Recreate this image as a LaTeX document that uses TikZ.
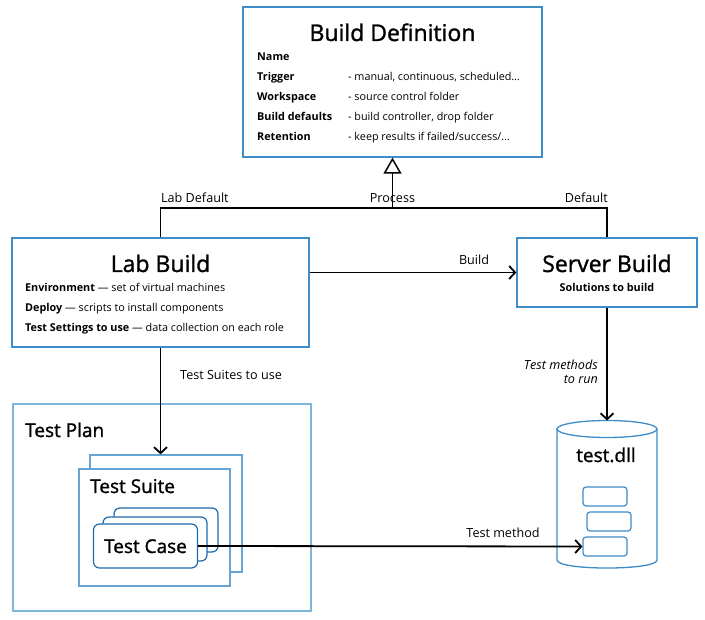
\documentclass[tikz,border=0pt]{standalone}
\usepackage{fontspec}
\setmainfont{Open Sans}
\newfontfamily\headfam[FakeBold=1.3]{Open Sans}
\usetikzlibrary{arrows.meta,positioning,calc}

\definecolor{boxblue}{HTML}{3F8DC8}
\definecolor{paleblue}{HTML}{7FB4DB}
\definecolor{deepblue}{HTML}{1F6AAE}

\newcommand{\bigfont}{\headfam\fontsize{23}{27}\selectfont}
\newcommand{\midfont}{\headfam\fontsize{19}{23}\selectfont}
\newcommand{\lblfont}{\fontsize{12.6}{14}\selectfont}
\newcommand{\smallfont}{\fontsize{10.8}{13}\selectfont}

\tikzset{
  box/.style={draw=boxblue, line width=1.3pt, fill=white, inner sep=0pt},
  palebox/.style={box, draw=paleblue},
  card/.style={draw=deepblue, line width=1.2pt, fill=white, rounded corners=6pt, inner sep=0pt,
    minimum width=104, minimum height=44},
  slot/.style={draw=boxblue, line width=1.2pt, rounded corners=3pt, inner sep=0pt,
    minimum width=44, minimum height=19},
  link/.style={line width=1.8pt, -{Straight Barb[length=6pt,width=13pt,line width=1.8pt]}},
  lbl/.style={font=\lblfont, inner sep=0pt},
  row/.style={font=\smallfont, inner sep=0pt, anchor=base west},
}

\begin{document}
\begin{tikzpicture}[x=1pt,y=-1pt]
\useasboundingbox (0,0) rectangle (705,620);

% Build definition
\node[box, minimum width=299, minimum height=150] (def) at (392.5,82) {};
\node[font=\bigfont, anchor=base, inner sep=0pt] (defT) at (392.5,41) {Build Definition};
\node[row] (k1) at (257,61) {\bfseries Name};
\node[row] (k2) at (257,81) {\bfseries Trigger};
\node[row] (k3) at (257,101) {\bfseries Workspace};
\node[row] (k4) at (257,121) {\bfseries Build defaults};
\node[row] (k5) at (257,141) {\bfseries Retention};
\node[row] (v2) at (348,81) {- manual, continuous, scheduled…};
\node[row] (v3) at (348,101) {- source control folder};
\node[row] (v4) at (348,121) {- build controller, drop folder};
\node[row] (v5) at (348,141) {- keep results if failed/success/…};

% Lab build
\node[box, minimum width=297, minimum height=109] (lab) at (160.5,292.5) {};
\node[font=\bigfont, anchor=base, inner sep=0pt] (labT) at (160.5,272) {Lab Build};
\node[row] (e1) at (25,292) {\bfseries Environment \mdseries — set of virtual machines};
\node[row] (e2) at (25,312) {\bfseries Deploy \mdseries — scripts to install components};
\node[row] (e3) at (25,332) {\bfseries Test Settings to use \mdseries — data collection on each role};

% Server build
\node[box, minimum width=180, minimum height=69] (srv) at (607,272.5) {};
\node[font=\bigfont, anchor=base, inner sep=0pt] (srvT) at (607,272) {Server Build};
\node[row, anchor=base] (srvS) at (607,292) {\bfseries Solutions to build};

% Test plan with suites and cases
\node[palebox, minimum width=298, minimum height=207] (plan) at (162,507.5) {};
\node[font=\midfont, anchor=base west, inner sep=0pt] (planT) at (25,437) {Test Plan};
\node[palebox, draw=boxblue!80, minimum width=152, minimum height=117] (suite2) at (166,513.5) {};
\node[palebox, draw=boxblue!80, minimum width=151, minimum height=117] (suite) at (154.5,527.5) {};
\node[font=\midfont, anchor=base west, inner sep=0pt] (suiteT) at (90,493) {Test Suite};
\node[card] (case3) at (166,530) {};
\node[card] (case2) at (155,539) {};
\node[card] (case) at (145.5,546) {};
\node[font=\midfont, anchor=base, inner sep=0pt] (caseT) at (145.5,553) {Test Case};

% test.dll cylinder
\draw[boxblue, line width=1.3pt, fill=white] (557,429) -- (557,560)
  .. controls (557,570.7) and (657,570.7) .. (657,560) -- (657,429);
\draw[boxblue, line width=1.3pt, fill=white] (607,429) ellipse (50 and 8.5);
\coordinate (dll) at (607,420.5);
\node[font=\midfont, anchor=base, inner sep=0pt] (dllT) at (606,462) {test.dll};
\node[slot] (m1) at (605,496.5) {};
\node[slot] (m2) at (609,521.5) {};
\node[slot] (m3) at (605,546.5) {};

% Connectors
\coordinate (bus) at (392.5,208);
\draw[line width=1.8pt] (lab.north) |- (bus) -| (srv.north);
\draw[line width=1.8pt, -{Triangle[open,length=16pt,width=18pt,line width=1.5pt]}] (bus) -- (def.south);
\node[lbl, anchor=base west] (lLab) at (161,203) {Lab Default};
\node[lbl, anchor=base] (lProc) at (392.5,203) {Process};
\node[lbl, anchor=base east] (lDef) at (608,203) {Default};

\draw[link] (lab.east |- srv.west) -- (srv.west);
\node[lbl, anchor=base] (lBuild) at (474,265) {Build};

\draw[link] (lab.south) -- (lab.south |- suite2.north);
\node[lbl, anchor=base west] (lSuites) at (180,380) {Test Suites to use};

\draw[link] (srv.south) -- (dll);
\node[lbl, anchor=base east, font=\lblfont\itshape] (lRun1) at (598,370) {Test methods};
\node[lbl, anchor=base east, font=\lblfont\itshape] (lRun2) at (598,384) {to run};

\draw[link] (case.east) -- (m3.west);
\node[lbl, anchor=base] (lMeth) at (503,537) {Test method};

\end{tikzpicture}
\end{document}
